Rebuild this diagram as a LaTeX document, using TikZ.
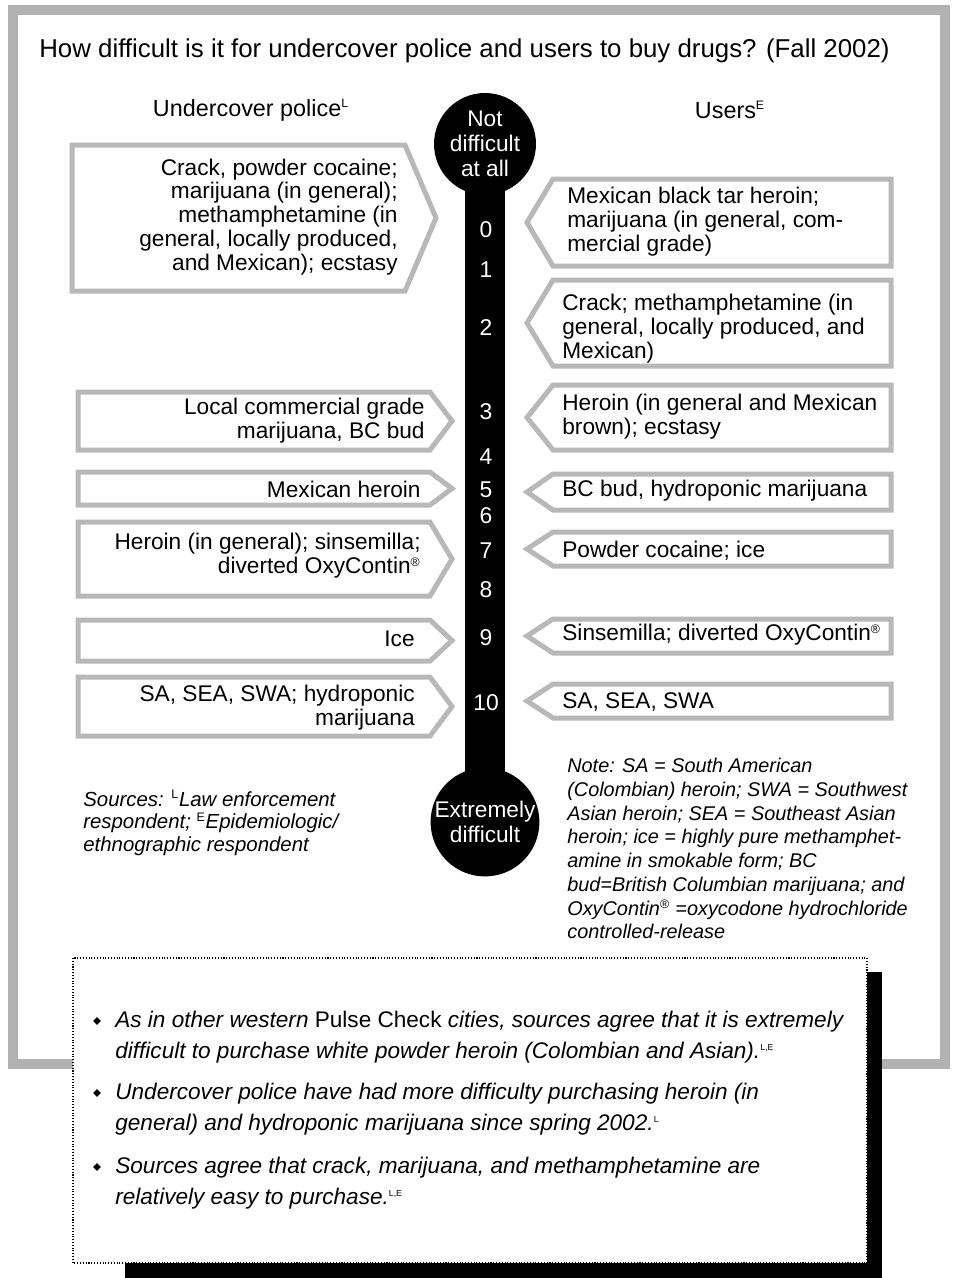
\documentclass[tikz,border=0pt]{standalone}
\usepackage{fontspec}
\setmainfont{Liberation Sans}
\definecolor{framegray}{RGB}{178,178,178}
\definecolor{boxgray}{RGB}{184,184,184}
\usetikzlibrary{shapes.geometric}

\begin{document}
\begin{tikzpicture}[x=0.02cm, y=-0.02cm,
  txt/.style={inner sep=0, font=\fontsize{12.9}{13.6}\selectfont},
  ltxt/.style={txt, anchor=east, align=right},
  rtxt/.style={txt, anchor=west, align=left},
  abx/.style={draw=boxgray, line width=0.1cm, fill=white},
  bulb/.style={circle, fill=black, text=white, minimum size=2.04cm, inner sep=0, align=center,
    font=\fontsize{12.9}{14.2}\selectfont},
  num/.style={text=white, inner sep=0, font=\fontsize{13}{14}\selectfont},
  note/.style={inner sep=0, anchor=north west, align=left, font=\itshape\fontsize{11.3}{13.5}\selectfont},
  bul/.style={inner sep=0, anchor=north west, align=left, font=\itshape\fontsize{12.85}{17.6}\selectfont},
  dia/.style={diamond, fill=black, inner sep=0, minimum size=0.16cm}]
\useasboundingbox (0,0) rectangle (958,1278);
% Frame
\draw[framegray, line width=0.2cm] (13,10) rectangle (945,1064);
\node[txt, anchor=west, font=\fontsize{14.7}{15}\selectfont] (title) at (39,51)
  {How difficult is it for undercover police and users to buy drugs? (Fall 2002)};
\node[txt, font=\fontsize{13.3}{14}\selectfont] (police) at (251,110) {Undercover police\textsuperscript{\scriptsize L}};
\node[txt, font=\fontsize{13.3}{14}\selectfont] (users) at (730,110) {Users\textsuperscript{\scriptsize E}};
% Scale
\coordinate (tc) at (485,144);
\coordinate (bc) at (485,822);
\draw[line width=0.8cm] (tc) -- (bc);
\node[bulb] (easy) at (tc) {Not\\difficult\\at all};
\node[bulb] (hard) at (bc) {Extremely\\difficult};
\foreach \n/\y in {0/230, 1/270, 2/328, 3/412, 4/457, 5/490, 6/516, 7/551, 8/590, 9/638, 10/703}
  \node[num] (n\n) at (486,\y) {\n};
% Undercover police
\foreach \l/\t/\b/\r/\p in {72/145/291/405/436, 78/392/450/430/452, 78/472/505/430/452,
    78/522/596/430/452, 78/620/661/430/452, 78/677/736/430/452}
  \draw[abx] (\l,\t) -- (\r,\t) -- (\p,{(\t+\b)/2}) -- (\r,\b) -- (\l,\b) -- cycle;
\node[ltxt] (l1) at (398,217) {Crack, powder cocaine;\\marijuana (in general);\\methamphetamine (in\\general, locally produced,\\and Mexican); ecstasy};
\node[ltxt] (l2) at (425,421) {Local commercial grade\\marijuana, BC bud};
\node[ltxt] (l3) at (421,489) {Mexican heroin};
\node[ltxt] (l4) at (421,556) {Heroin (in general); sinsemilla;\\diverted OxyContin\textsuperscript{\scriptsize ®}};
\node[ltxt] (l5) at (415,639) {Ice};
\node[ltxt] (l6) at (415,708) {SA, SEA, SWA; hydroponic\\marijuana};
% Users
\foreach \t/\b in {179/266, 280/366, 385/450, 474/510, 532/566, 619/653, 684/718}
  \draw[abx] (891,\t) -- (553,\t) -- (527,{(\t+\b)/2}) -- (553,\b) -- (891,\b) -- cycle;
\node[rtxt] (r1) at (567,222) {Mexican black tar heroin;\\marijuana (in general, com-\\mercial grade)};
\node[rtxt] (r2) at (562,329) {Crack; methamphetamine (in\\general, locally produced, and\\Mexican)};
\node[rtxt] (r3) at (562,417) {Heroin (in general and Mexican\\brown); ecstasy};
\node[rtxt] (r4) at (562,491) {BC bud, hydroponic marijuana};
\node[rtxt] (r5) at (562,551) {Powder cocaine; ice};
\node[rtxt] (r6) at (562,635) {Sinsemilla; diverted OxyContin\textsuperscript{\scriptsize ®}};
\node[rtxt] (r7) at (562,702) {SA, SEA, SWA};
% Notes
\node[note, font=\itshape\fontsize{11.6}{12.8}\selectfont] (src) at (83,790)
  {Sources: \textsuperscript{\scriptsize\upshape L}Law enforcement\\respondent; \textsuperscript{\scriptsize\upshape E}Epidemiologic/\\ethnographic respondent};
\node[note] (abbr) at (567,758) {Note: SA = South American\\(Colombian) heroin; SWA = Southwest\\Asian heroin; SEA = Southeast Asian\\heroin; ice = highly pure methamphet-\\amine in smokable form; BC\\bud=British Columbian marijuana; and\\OxyContin\textsuperscript{\scriptsize\upshape ®} =oxycodone hydrochloride\\controlled-release};
% Highlights
\fill[black] (125,972) rectangle (882,1278);
\draw[fill=white, densely dotted, line width=0.6pt] (73,958) rectangle (867,1263);
\node[dia] (d1) at (97,1021) {};
\node[dia] (d2) at (97,1093) {};
\node[dia] (d3) at (97,1167) {};
\node[bul] (b1) at (115,1011) {As in other western \textup{Pulse Check} cities, sources agree that it is extremely\\difficult to purchase white powder heroin (Colombian and Asian).\textsuperscript{\tiny\upshape L,E}};
\node[bul] (b2) at (115,1083) {Undercover police have had more difficulty purchasing heroin (in\\general) and hydroponic marijuana since spring 2002.\textsuperscript{\tiny\upshape L}};
\node[bul] (b3) at (115,1157) {Sources agree that crack, marijuana, and methamphetamine are\\relatively easy to purchase.\textsuperscript{\tiny\upshape L,E}};
\end{tikzpicture}
\end{document}
